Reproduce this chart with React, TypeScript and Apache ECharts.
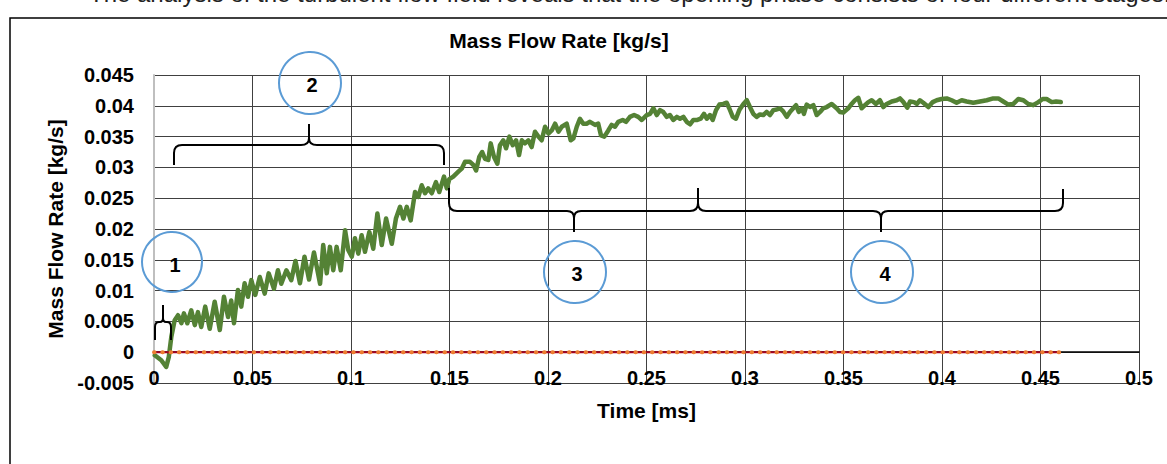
import React, { useEffect, useRef } from "react";
import * as echarts from "echarts";

// ---- data ----
const timeMs = [
  0.0004, 0.0037, 0.0062, 0.0075, 0.0088, 0.0105, 0.0122, 0.0139, 0.0152, 0.0169,
  0.0189, 0.0207, 0.0223, 0.0240, 0.0260, 0.0283, 0.0308, 0.0334, 0.0355, 0.0376,
  0.0392, 0.0406, 0.0426, 0.0443, 0.0460, 0.0477, 0.0494, 0.0514, 0.0537, 0.0562,
  0.0582, 0.0609, 0.0629, 0.0646, 0.0672, 0.0697, 0.0718, 0.0741, 0.0764, 0.0787,
  0.0812, 0.0843, 0.0859, 0.0877, 0.0893, 0.0910, 0.0927, 0.0948, 0.0970, 0.0986,
  0.1004, 0.1020, 0.1037, 0.1054, 0.1071, 0.1093, 0.1113, 0.1134, 0.1156, 0.1178,
  0.1207, 0.1228, 0.1249, 0.1266, 0.1283, 0.1303, 0.1325, 0.1342, 0.1359, 0.1376,
  0.1392, 0.1410, 0.1431, 0.1448, 0.1472, 0.1486, 0.1499, 0.1519, 0.1545, 0.1562,
  0.1579, 0.1604, 0.1621, 0.1635, 0.1651, 0.1666, 0.1680, 0.1697, 0.1709, 0.1726,
  0.1743, 0.1756, 0.1773, 0.1787, 0.1804, 0.1821, 0.1838, 0.1853, 0.1867, 0.1883,
  0.1900, 0.1917, 0.1934, 0.1951, 0.1968, 0.1985, 0.2002, 0.2019, 0.2036, 0.2053,
  0.2070, 0.2095, 0.2115, 0.2129, 0.2146, 0.2162, 0.2179, 0.2196, 0.2213, 0.2239,
  0.2255, 0.2269, 0.2286, 0.2306, 0.2323, 0.2340, 0.2357, 0.2379, 0.2396, 0.2416,
  0.2437, 0.2458, 0.2476, 0.2501, 0.2518, 0.2535, 0.2552, 0.2569, 0.2585, 0.2603,
  0.2619, 0.2636, 0.2654, 0.2670, 0.2687, 0.2704, 0.2721, 0.2738, 0.2758, 0.2775,
  0.2792, 0.2806, 0.2822, 0.2836, 0.2853, 0.2870, 0.2890, 0.2907, 0.2920, 0.2938,
  0.2954, 0.2971, 0.2992, 0.3009, 0.3025, 0.3042, 0.3059, 0.3076, 0.3093, 0.3110,
  0.3127, 0.3144, 0.3161, 0.3178, 0.3194, 0.3212, 0.3228, 0.3245, 0.3259, 0.3273,
  0.3289, 0.3299, 0.3313, 0.3330, 0.3347, 0.3364, 0.3381, 0.3397, 0.3415, 0.3440,
  0.3465, 0.3482, 0.3499, 0.3524, 0.3541, 0.3558, 0.3575, 0.3592, 0.3609, 0.3626,
  0.3643, 0.3665, 0.3685, 0.3702, 0.3719, 0.3745, 0.3770, 0.3787, 0.3804, 0.3824,
  0.3838, 0.3858, 0.3872, 0.3888, 0.3905, 0.3931, 0.3953, 0.3973, 0.3998, 0.4024,
  0.4049, 0.4074, 0.4100, 0.4125, 0.4159, 0.4193, 0.4227, 0.4260, 0.4286, 0.4311,
  0.4337, 0.4362, 0.4387, 0.4413, 0.4438, 0.4463, 0.4489, 0.4511, 0.4531, 0.4557,
  0.4579, 0.4603,
];

const massFlowKgS = [
  -0.0005, -0.0013, -0.0024, -0.0008, 0.0025, 0.0052, 0.0060, 0.0047, 0.0063, 0.0047,
  0.0068, 0.0044, 0.0065, 0.0041, 0.0074, 0.0038, 0.0082, 0.0036, 0.0090, 0.0057,
  0.0084, 0.0047, 0.0101, 0.0074, 0.0112, 0.0090, 0.0117, 0.0093, 0.0122, 0.0095,
  0.0128, 0.0103, 0.0133, 0.0111, 0.0133, 0.0117, 0.0148, 0.0112, 0.0155, 0.0118,
  0.0162, 0.0111, 0.0174, 0.0128, 0.0171, 0.0133, 0.0171, 0.0133, 0.0198, 0.0166,
  0.0155, 0.0185, 0.0160, 0.0190, 0.0163, 0.0195, 0.0168, 0.0225, 0.0174, 0.0217,
  0.0176, 0.0217, 0.0236, 0.0217, 0.0236, 0.0214, 0.0260, 0.0252, 0.0271, 0.0258,
  0.0266, 0.0258, 0.0276, 0.0260, 0.0285, 0.0266, 0.0281, 0.0285, 0.0293, 0.0298,
  0.0309, 0.0309, 0.0304, 0.0295, 0.0317, 0.0325, 0.0314, 0.0312, 0.0339, 0.0317,
  0.0306, 0.0336, 0.0344, 0.0331, 0.0350, 0.0336, 0.0344, 0.0320, 0.0344, 0.0339,
  0.0344, 0.0333, 0.0358, 0.0350, 0.0344, 0.0366, 0.0355, 0.0360, 0.0371, 0.0358,
  0.0366, 0.0371, 0.0344, 0.0347, 0.0366, 0.0379, 0.0371, 0.0371, 0.0374, 0.0369,
  0.0371, 0.0352, 0.0350, 0.0360, 0.0369, 0.0366, 0.0374, 0.0377, 0.0374, 0.0382,
  0.0385, 0.0382, 0.0377, 0.0385, 0.0387, 0.0396, 0.0385, 0.0393, 0.0390, 0.0382,
  0.0385, 0.0377, 0.0382, 0.0379, 0.0382, 0.0374, 0.0370, 0.0377, 0.0377, 0.0379,
  0.0387, 0.0379, 0.0385, 0.0377, 0.0393, 0.0402, 0.0403, 0.0405, 0.0396, 0.0382,
  0.0379, 0.0393, 0.0403, 0.0409, 0.0398, 0.0387, 0.0382, 0.0386, 0.0385, 0.0390,
  0.0385, 0.0393, 0.0394, 0.0396, 0.0391, 0.0382, 0.0390, 0.0396, 0.0401, 0.0390,
  0.0396, 0.0387, 0.0402, 0.0398, 0.0401, 0.0385, 0.0390, 0.0396, 0.0398, 0.0403,
  0.0396, 0.0390, 0.0389, 0.0396, 0.0403, 0.0409, 0.0413, 0.0396, 0.0401, 0.0406,
  0.0409, 0.0403, 0.0409, 0.0398, 0.0403, 0.0407, 0.0409, 0.0412, 0.0406, 0.0397,
  0.0407, 0.0406, 0.0403, 0.0409, 0.0405, 0.0398, 0.0406, 0.0409, 0.0411, 0.0412,
  0.0409, 0.0405, 0.0409, 0.0407, 0.0405, 0.0407, 0.0409, 0.0412, 0.0412, 0.0407,
  0.0402, 0.0403, 0.0411, 0.0409, 0.0403, 0.0401, 0.0406, 0.0411, 0.0411, 0.0406,
  0.0407, 0.0406,
];

const zeroTimeMs = [0, 0.46];
const zeroFlowKgS = [0, 0];

const xTickLabels = ["0", "0.05", "0.1", "0.15", "0.2", "0.25", "0.3", "0.35", "0.4", "0.45", "0.5"];
const yTickLabels = ["-0.005", "0", "0.005", "0.01", "0.015", "0.02", "0.025", "0.03", "0.035", "0.04", "0.045"];
const stageLabels = ["1", "2", "3", "4"];

const X_MIN = 0, X_MAX = 0.5, X_STEP = 0.05;
const Y_MIN = -0.005, Y_MAX = 0.045, Y_STEP = 0.005;

const chartTitle = "Mass Flow Rate [kg/s]";
const yAxisTitle = "Mass Flow Rate [kg/s]";
const xAxisTitle = "Time [ms]";
const topText =
  "The analysis of the turbulent flow field reveals that the opening phase consists of four different stages.";

// ---- annotation shapes (braces) ----
const brace1 =
  "M155,340 L155,327 Q155,322 159,322 L160,322 Q163,322 163,318 L163,305 M163,318 Q163,322 166,322 L167,322 Q171,322 171,327 L171,340";
const brace2 =
  "M174,165 L174,153 Q174,145 182,145 L301,145 Q309,145 309,138 L309,124 M309,138 Q309,145 317,145 L436,145 Q444,145 444,153 L444,165";
const brace34 =
  "M449,188 L449,203 Q449,211 457,211 L567,211 Q574,211 574,218 L574,232 M574,218 Q574,211 581,211 L690,211 Q698,211 698,203 L698,188 M698,203 Q698,211 706,211 L873,211 Q881,211 881,218 L881,232 M881,218 Q881,211 888,211 L1055,211 Q1063,211 1063,203 L1063,189";

echarts.graphic.registerShape("brace1", echarts.graphic.extendPath(brace1, {}));
echarts.graphic.registerShape("brace2", echarts.graphic.extendPath(brace2, {}));
echarts.graphic.registerShape("brace34", echarts.graphic.extendPath(brace34, {}));

const FONT = '"Liberation Sans", Arial, sans-serif';

export default function App() {
  const ref = useRef<HTMLDivElement>(null);

  useEffect(() => {
    if (!ref.current) return;
    const chart = echarts.init(ref.current, undefined, { renderer: "svg" });

    const flowData = timeMs.map((t, i) => [t, massFlowKgS[i]]);
    const zeroData = zeroTimeMs.map((t, i) => [t, zeroFlowKgS[i]]);

    const braceStyle = { fill: "none", stroke: "#000", lineWidth: 2 };
    const circleStyle = { fill: "none", stroke: "#5B9BD5", lineWidth: 2 };
    const numStyle = (text: string) => ({
      text,
      fill: "#000",
      font: `bold 20px ${FONT}`,
      align: "center",
      verticalAlign: "middle",
    });

    chart.setOption({
      animation: false,
      backgroundColor: "#fff",
      grid: { left: 154, right: 28, top: 75, bottom: 81, containLabel: false },
      xAxis: {
        type: "value",
        min: X_MIN,
        max: X_MAX,
        interval: X_STEP,
        name: xAxisTitle,
        nameLocation: "middle",
        nameGap: 17,
        nameTextStyle: { fontSize: 21, fontWeight: "bold", fontFamily: FONT, color: "#000" },
        axisLine: { show: true, onZero: true, lineStyle: { color: "#000", width: 1.5 } },
        axisTick: { show: false },
        axisLabel: {
          margin: -15,
          fontSize: 20,
          fontWeight: "bold",
          fontFamily: FONT,
          color: "#000",
          formatter: (v: number) => xTickLabels[Math.round((v - X_MIN) / X_STEP)] ?? String(v),
        },
        splitLine: { show: true, showMinLine: false, lineStyle: { color: "#404040", width: 1 } },
      },
      yAxis: {
        type: "value",
        min: Y_MIN,
        max: Y_MAX,
        interval: Y_STEP,
        name: yAxisTitle,
        nameLocation: "middle",
        nameGap: 86,
        nameRotate: 90,
        nameTextStyle: { fontSize: 21, fontWeight: "bold", fontFamily: FONT, color: "#000" },
        axisLine: { show: true, lineStyle: { color: "#bfbfbf", width: 2 } },
        axisTick: { show: false },
        axisLabel: {
          margin: 20,
          fontSize: 20,
          fontWeight: "bold",
          fontFamily: FONT,
          color: "#000",
          formatter: (v: number) => yTickLabels[Math.round((v - Y_MIN) / Y_STEP)] ?? String(v),
        },
        splitLine: { show: true, lineStyle: { color: "#404040", width: 1 } },
      },
      series: [
        {
          type: "line",
          name: "Mass Flow Rate",
          data: flowData,
          showSymbol: false,
          symbol: "none",
          lineStyle: { color: "#548235", width: 4.5, cap: "round", join: "round" },
          z: 3,
        },
        {
          type: "line",
          name: "Zero",
          data: zeroData,
          showSymbol: false,
          symbol: "none",
          lineStyle: { color: "#A50021", width: 2 },
          z: 4,
        },
        {
          type: "line",
          name: "Zero dots",
          data: zeroData,
          showSymbol: false,
          symbol: "none",
          lineStyle: { color: "#ED7D31", width: 4, type: [0.5, 7.8], cap: "round" },
          z: 5,
        },
      ],
      graphic: [
        {
          type: "rect",
          shape: { x: 10, y: 18, width: 1300, height: 700 },
          style: { fill: "none", stroke: "#000", lineWidth: 1.5 },
          silent: true,
        },
        {
          type: "text",
          x: 89,
          y: 5,
          style: { text: topText, fill: "#222", font: `24px ${FONT}`, verticalAlign: "bottom" },
        },
        {
          type: "text",
          x: 559,
          y: 40,
          style: {
            text: chartTitle,
            fill: "#000",
            font: `bold 21px ${FONT}`,
            align: "center",
            verticalAlign: "middle",
          },
        },
        { type: "brace1", x: 0, y: 0, style: braceStyle, z: 100 },
        { type: "brace2", x: 0, y: 0, style: braceStyle, z: 100 },
        { type: "brace34", x: 0, y: 0, style: braceStyle, z: 100 },
        { type: "circle", shape: { cx: 172, cy: 262, r: 30 }, style: circleStyle, z: 100 },
        { type: "circle", shape: { cx: 310, cy: 83, r: 31 }, style: circleStyle, z: 100 },
        { type: "circle", shape: { cx: 575, cy: 272, r: 31 }, style: circleStyle, z: 100 },
        { type: "circle", shape: { cx: 882, cy: 272, r: 31 }, style: circleStyle, z: 100 },
        { type: "text", x: 175, y: 265, style: numStyle(stageLabels[0]), z: 100 },
        { type: "text", x: 312, y: 85, style: numStyle(stageLabels[1]), z: 100 },
        { type: "text", x: 577, y: 274, style: numStyle(stageLabels[2]), z: 100 },
        { type: "text", x: 885, y: 274, style: numStyle(stageLabels[3]), z: 100 },
      ],
    });

    return () => {
      chart.dispose();
    };
  }, []);

  return (
    <div
      ref={ref}
      style={{ position: "fixed", left: 0, top: 0, width: 1167, height: 464, background: "#fff" }}
    />
  );
}
